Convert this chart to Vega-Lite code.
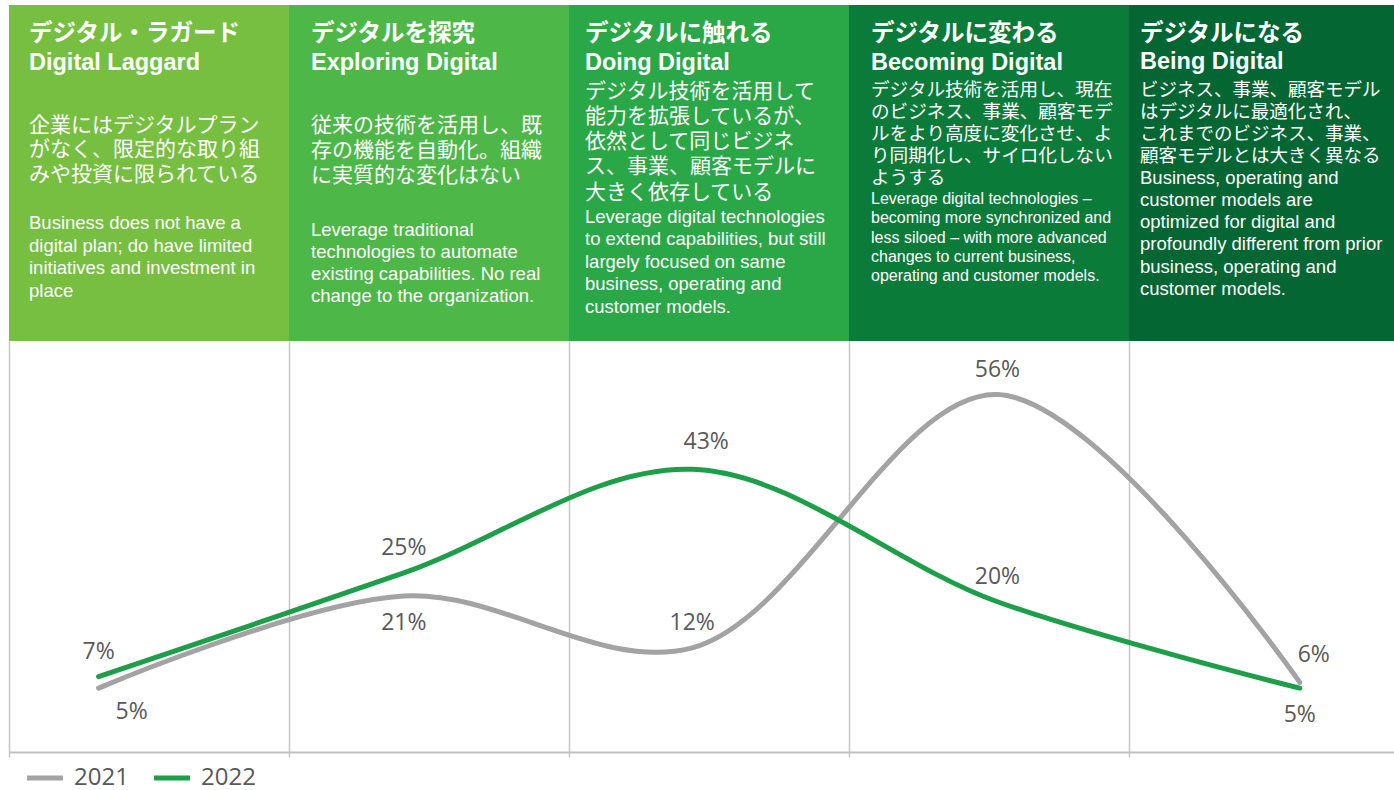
{
  "$schema": "https://vega.github.io/schema/vega-lite/v6.json",
  "padding": {"left": 8, "top": 5, "right": 0, "bottom": 0},
  "background": "white",
  "spacing": 0,
  "bounds": "flush",
  "config": {"view": {"stroke": null}},
  "resolve": {"scale": {"x": "independent", "y": "independent"}},
  "vconcat": [
    {
      "width": 1386,
      "height": 336,
      "data": {
        "values": [
          {"stage": 0, "end": 1, "title": ["デジタル・ラガード", "Digital Laggard"], "jp": ["企業にはデジタルプラン", "がなく、限定的な取り組", "みや投資に限られている"], "en": ["Business does not have a", "digital plan; do have limited", "initiatives and investment in", "place"]},
          {"stage": 1, "end": 2, "title": ["デジタルを探究", "Exploring Digital"], "jp": ["従来の技術を活用し、既", "存の機能を自動化。組織", "に実質的な変化はない"], "en": ["Leverage traditional", "technologies to automate", "existing capabilities. No real", "change to the organization."]},
          {"stage": 2, "end": 3, "title": ["デジタルに触れる", "Doing Digital"], "jp": ["デジタル技術を活用して", "能力を拡張しているが、", "依然として同じビジネ", "ス、事業、顧客モデルに", "大きく依存している"], "en": ["Leverage digital technologies", "to extend capabilities, but still", "largely focused on same", "business, operating and", "customer models."]},
          {"stage": 3, "end": 4, "title": ["デジタルに変わる", "Becoming Digital"], "jp": ["デジタル技術を活用し、現在", "のビジネス、事業、顧客モデ", "ルをより高度に変化させ、よ", "り同期化し、サイロ化しない", "ようする"], "en": ["Leverage digital technologies –", "becoming more synchronized and", "less siloed – with more advanced", "changes to current business,", "operating and customer models."]},
          {"stage": 4, "end": 5, "title": ["デジタルになる", "Being Digital"], "jp": ["ビジネス、事業、顧客モデル", "はデジタルに最適化され、", "これまでのビジネス、事業、", "顧客モデルとは大きく異なる"], "en": ["Business, operating and", "customer models are", "optimized for digital and", "profoundly different from prior", "business, operating and", "customer models."]}
        ]
      },
      "encoding": {
        "x": {"field": "stage", "type": "quantitative", "scale": {"domain": [0, 4.95], "nice": false, "zero": false}, "axis": null}
      },
      "layer": [
        {
          "mark": {"type": "rect", "clip": true},
          "encoding": {
            "x2": {"field": "end"},
            "fill": {"field": "stage", "type": "ordinal", "scale": {"domain": [0, 1, 2, 3, 4], "range": ["#76bf41", "#4db848", "#2aa847", "#0b7b3a", "#036633"]}, "legend": null}
          }
        },
        {
          "transform": [{"filter": "datum.stage == 0"}],
          "layer": [
            {"mark": {"type": "text", "align": "left", "baseline": "middle", "font": "Liberation Sans, Noto Sans CJK JP", "fontSize": 23.5, "fontWeight": "bold", "lineHeight": 29, "color": "white", "y": 29.2, "dx": 20}, "encoding": {"text": {"field": "title", "type": "nominal"}}},
            {"mark": {"type": "text", "align": "left", "baseline": "middle", "font": "Liberation Sans, Noto Sans CJK JP", "fontSize": 21, "lineHeight": 24.7, "color": "white", "y": 120.8, "dx": 20}, "encoding": {"text": {"field": "jp", "type": "nominal"}}},
            {"mark": {"type": "text", "align": "left", "baseline": "middle", "font": "Liberation Sans, Noto Sans CJK JP", "fontSize": 18.5, "lineHeight": 22.5, "color": "white", "y": 218.2, "dx": 20}, "encoding": {"text": {"field": "en", "type": "nominal"}}}
          ]
        },
        {
          "transform": [{"filter": "datum.stage == 1"}],
          "layer": [
            {"mark": {"type": "text", "align": "left", "baseline": "middle", "font": "Liberation Sans, Noto Sans CJK JP", "fontSize": 23.5, "fontWeight": "bold", "lineHeight": 28.5, "color": "white", "y": 29.2, "dx": 22}, "encoding": {"text": {"field": "title", "type": "nominal"}}},
            {"mark": {"type": "text", "align": "left", "baseline": "middle", "font": "Liberation Sans, Noto Sans CJK JP", "fontSize": 21, "lineHeight": 25, "color": "white", "y": 120.8, "dx": 22}, "encoding": {"text": {"field": "jp", "type": "nominal"}}},
            {"mark": {"type": "text", "align": "left", "baseline": "middle", "font": "Liberation Sans, Noto Sans CJK JP", "fontSize": 18.5, "lineHeight": 22, "color": "white", "y": 225.2, "dx": 22}, "encoding": {"text": {"field": "en", "type": "nominal"}}}
          ]
        },
        {
          "transform": [{"filter": "datum.stage == 2"}],
          "layer": [
            {"mark": {"type": "text", "align": "left", "baseline": "middle", "font": "Liberation Sans, Noto Sans CJK JP", "fontSize": 23.5, "fontWeight": "bold", "lineHeight": 28.5, "color": "white", "y": 29.2, "dx": 16}, "encoding": {"text": {"field": "title", "type": "nominal"}}},
            {"mark": {"type": "text", "align": "left", "baseline": "middle", "font": "Liberation Sans, Noto Sans CJK JP", "fontSize": 21, "lineHeight": 25.2, "color": "white", "y": 86.8, "dx": 16}, "encoding": {"text": {"field": "jp", "type": "nominal"}}},
            {"mark": {"type": "text", "align": "left", "baseline": "middle", "font": "Liberation Sans, Noto Sans CJK JP", "fontSize": 18.5, "lineHeight": 22.5, "color": "white", "y": 211.8, "dx": 16}, "encoding": {"text": {"field": "en", "type": "nominal"}}}
          ]
        },
        {
          "transform": [{"filter": "datum.stage == 3"}],
          "layer": [
            {"mark": {"type": "text", "align": "left", "baseline": "middle", "font": "Liberation Sans, Noto Sans CJK JP", "fontSize": 23.5, "fontWeight": "bold", "lineHeight": 28.5, "color": "white", "y": 29.2, "dx": 22}, "encoding": {"text": {"field": "title", "type": "nominal"}}},
            {"mark": {"type": "text", "align": "left", "baseline": "middle", "font": "Liberation Sans, Noto Sans CJK JP", "fontSize": 18.6, "lineHeight": 22.1, "color": "white", "y": 84.8, "dx": 22}, "encoding": {"text": {"field": "jp", "type": "nominal"}}},
            {"mark": {"type": "text", "align": "left", "baseline": "middle", "font": "Liberation Sans, Noto Sans CJK JP", "fontSize": 16, "lineHeight": 19.2, "color": "white", "y": 194.2, "dx": 22}, "encoding": {"text": {"field": "en", "type": "nominal"}}}
          ]
        },
        {
          "transform": [{"filter": "datum.stage == 4"}],
          "layer": [
            {"mark": {"type": "text", "align": "left", "baseline": "middle", "font": "Liberation Sans, Noto Sans CJK JP", "fontSize": 23.5, "fontWeight": "bold", "lineHeight": 27.6, "color": "white", "y": 29.2, "dx": 11}, "encoding": {"text": {"field": "title", "type": "nominal"}}},
            {"mark": {"type": "text", "align": "left", "baseline": "middle", "font": "Liberation Sans, Noto Sans CJK JP", "fontSize": 18.5, "lineHeight": 22, "color": "white", "y": 84.8, "dx": 11}, "encoding": {"text": {"field": "jp", "type": "nominal"}}},
            {"mark": {"type": "text", "align": "left", "baseline": "middle", "font": "Liberation Sans, Noto Sans CJK JP", "fontSize": 18.5, "lineHeight": 22.3, "color": "white", "y": 172.5, "dx": 11}, "encoding": {"text": {"field": "en", "type": "nominal"}}}
          ]
        }
      ]
    },
    {
      "width": 1386,
      "height": 411,
      "data": {
        "values": [
          {"year": "2021", "stage": 0, "pos": 0.32, "value": 0.05},
          {"year": "2021", "stage": 1, "pos": 1.41, "value": 0.21},
          {"year": "2021", "stage": 2, "pos": 2.44, "value": 0.12},
          {"year": "2021", "stage": 3, "pos": 3.53, "value": 0.56},
          {"year": "2021", "stage": 4, "pos": 4.61, "value": 0.06},
          {"year": "2022", "stage": 0, "pos": 0.32, "value": 0.07},
          {"year": "2022", "stage": 1, "pos": 1.41, "value": 0.25},
          {"year": "2022", "stage": 2, "pos": 2.44, "value": 0.43},
          {"year": "2022", "stage": 3, "pos": 3.53, "value": 0.20},
          {"year": "2022", "stage": 4, "pos": 4.61, "value": 0.05}
        ]
      },
      "encoding": {
        "x": {"field": "pos", "type": "quantitative", "scale": {"domain": [0, 4.95], "nice": false, "zero": false}, "axis": {"values": [0, 1, 2, 3, 4], "grid": true, "gridColor": "#c6c6c6", "gridWidth": 1.5, "domain": true, "domainColor": "#c0c0c0", "domainWidth": 2, "ticks": true, "tickColor": "#c6c6c6", "tickSize": 5, "tickWidth": 1.5, "labels": false, "title": null}},
        "y": {"field": "value", "type": "quantitative", "scale": {"domain": [-0.061, 0.653], "nice": false, "zero": false}, "axis": null}
      },
      "layer": [
        {
          "mark": {"type": "line", "interpolate": "catmull-rom", "strokeWidth": 5, "strokeCap": "round"},
          "encoding": {
            "stroke": {"field": "year", "type": "nominal", "scale": {"domain": ["2021", "2022"], "range": ["#a3a3a3", "#1d9e48"]}, "legend": {"orient": "bottom", "direction": "horizontal", "title": null, "symbolType": "stroke", "symbolStrokeWidth": 5, "symbolSize": 1300, "labelFont": "Open Sans", "labelFontSize": 24, "labelColor": "#595959", "columnPadding": 14, "labelOffset": 8, "offset": -16, "padding": 15}}
          }
        },
        {
          "transform": [{"filter": "(datum.year == '2022' && (datum.stage == 0 || datum.stage == 1 || datum.stage == 3)) || (datum.year == '2021' && (datum.stage == 2 || datum.stage == 3))"}],
          "mark": {"type": "text", "font": "Open Sans", "fontSize": 23, "color": "#595959", "dy": -25, "dx": 0},
          "encoding": {"text": {"field": "value", "type": "quantitative", "format": ".0%"}}
        },
        {
          "transform": [{"filter": "(datum.year == '2022' && datum.stage == 2) || (datum.year == '2021' && datum.stage == 4)"}],
          "mark": {"type": "text", "font": "Open Sans", "fontSize": 23, "color": "#595959", "dy": -27, "dx": 14},
          "encoding": {"text": {"field": "value", "type": "quantitative", "format": ".0%"}}
        },
        {
          "transform": [{"filter": "(datum.year == '2021' && datum.stage == 1) || (datum.year == '2022' && datum.stage == 4)"}],
          "mark": {"type": "text", "font": "Open Sans", "fontSize": 23, "color": "#595959", "dy": 27, "dx": 0},
          "encoding": {"text": {"field": "value", "type": "quantitative", "format": ".0%"}}
        },
        {
          "transform": [{"filter": "datum.year == '2021' && datum.stage == 0"}],
          "mark": {"type": "text", "font": "Open Sans", "fontSize": 23, "color": "#595959", "dy": 24, "dx": 33},
          "encoding": {"text": {"field": "value", "type": "quantitative", "format": ".0%"}}
        }
      ]
    }
  ]
}
